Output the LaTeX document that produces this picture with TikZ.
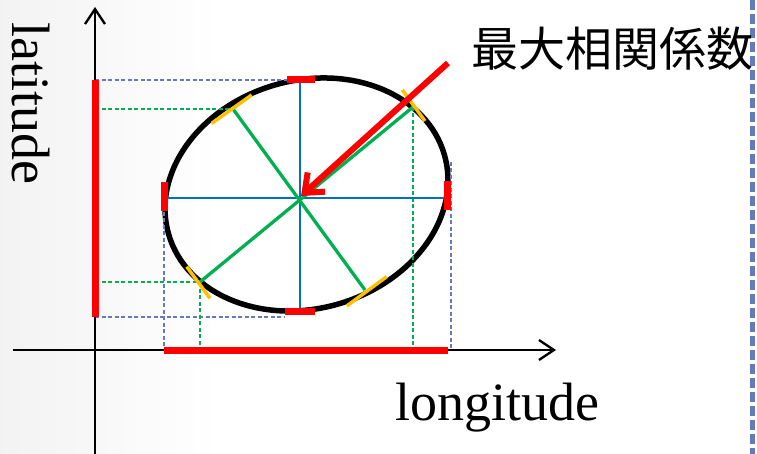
\documentclass[tikz,border=0pt]{standalone}
\usepackage{fontspec}
\setmainfont{Liberation Serif}
\newfontfamily\jpfont{Noto Sans CJK JP}
\usetikzlibrary{arrows.meta}
\definecolor{boxblue}{HTML}{6479BE}
\definecolor{crossblue}{HTML}{0070C0}
\definecolor{corrgreen}{HTML}{00B050}
\definecolor{tanyellow}{HTML}{FFC000}
\begin{document}
\begin{tikzpicture}[x=1pt,y=-1pt,
  axisline/.style={line width=2.3pt,-{Straight Barb[length=15pt,width=20pt]}},
  rangebar/.style={red,line width=7pt},
  boxline/.style={boxblue,line width=1.4pt,dash pattern=on 4pt off 2.5pt},
  projline/.style={corrgreen,line width=1.6pt,dash pattern=on 4pt off 2.5pt},
  tanmark/.style={tanyellow,line width=3.5pt},
  endmark/.style={red,line width=7pt},
  crossline/.style={crossblue,line width=1.8pt},
  diagline/.style={corrgreen,line width=3.3pt},
  pointer/.style={red,line width=6pt,-{Straight Barb[length=16pt,width=26pt]}}]
\useasboundingbox (0,0) rectangle (757,454);
\fill[left color=black!5,right color=white] (0,0) rectangle (220,454);

\coordinate (o) at (300,198);
\coordinate (c) at (306.5,194.5);
\coordinate (xs) at (13,350);
\coordinate (xe) at (556,350);
\coordinate (ys) at (95,454);
\coordinate (ye) at (95,7);

\coordinate (tl) at (287,80);
\coordinate (tr) at (315,80);
\coordinate (bl) at (285,311.5);
\coordinate (br) at (315,311.5);
\coordinate (lt) at (164.3,182);
\coordinate (lb) at (164.3,211);
\coordinate (rt) at (447.7,181);
\coordinate (rb) at (447.7,210);

\coordinate (p1) at (233,109);
\coordinate (p2) at (365,290);
\coordinate (p3) at (413,107);
\coordinate (p4) at (200,282);

\draw[line width=5.5pt] (c) ellipse [x radius=143.5pt, y radius=114pt, rotate=16];

\draw[boxline] (ys |- tl) -- (tl);
\draw[boxline] (95,317) -- (285,317);
\draw[boxline] (164,212) -- (164,350);
\draw[boxline] (451,162) -- (451,350);

\draw[projline] (ys |- p1) -- (p1);
\draw[projline] (ys |- p4) -- (p4);
\draw[projline] (p4) -- (p4 |- xs);
\draw[projline] (p3) -- (p3 |- xs);

\draw[crossline] (166,198) -- (447,198);
\draw[crossline] (300,79) -- (300,310);

\draw[diagline] (p1) -- (p2);
\draw[diagline] (p3) -- (p4);

\draw[tanmark] (211.7,123.3) -- (251.7,95);
\draw[tanmark] (402.3,90) -- (425,121);
\draw[tanmark] (186.7,266.7) -- (210,298.3);
\draw[tanmark] (346.7,306) -- (386.7,276.7);

\draw[endmark] (tl) -- (tr);
\draw[endmark] (bl) -- (br);
\draw[endmark] (lt) -- (lb);
\draw[endmark] (rt) -- (rb);

\draw[axisline] (xs) -- (xe);
\draw[axisline] (ys) -- (ye);
\draw[rangebar] (95,80) -- (95,317);
\draw[rangebar] (164,350) -- (448,350);

\coordinate (tail) at (448,63);
\draw[pointer] (tail) -- (301,196);

\draw[line width=5.5pt,boxblue,dash pattern=on 10pt off 4pt] (752.5,0) -- (752.5,454);

\node[rotate=-90,font=\fontsize{54}{60}\selectfont,inner sep=0pt] (lat) at (31,103) {latitude};
\node[anchor=base,font=\fontsize{54}{60}\selectfont,inner sep=0pt] (lon) at (497.5,420) {longitude};
\node[font=\jpfont\fontsize{47}{50}\selectfont,inner sep=0pt] (title) at (612,49) {最大相関係数};
\end{tikzpicture}
\end{document}
